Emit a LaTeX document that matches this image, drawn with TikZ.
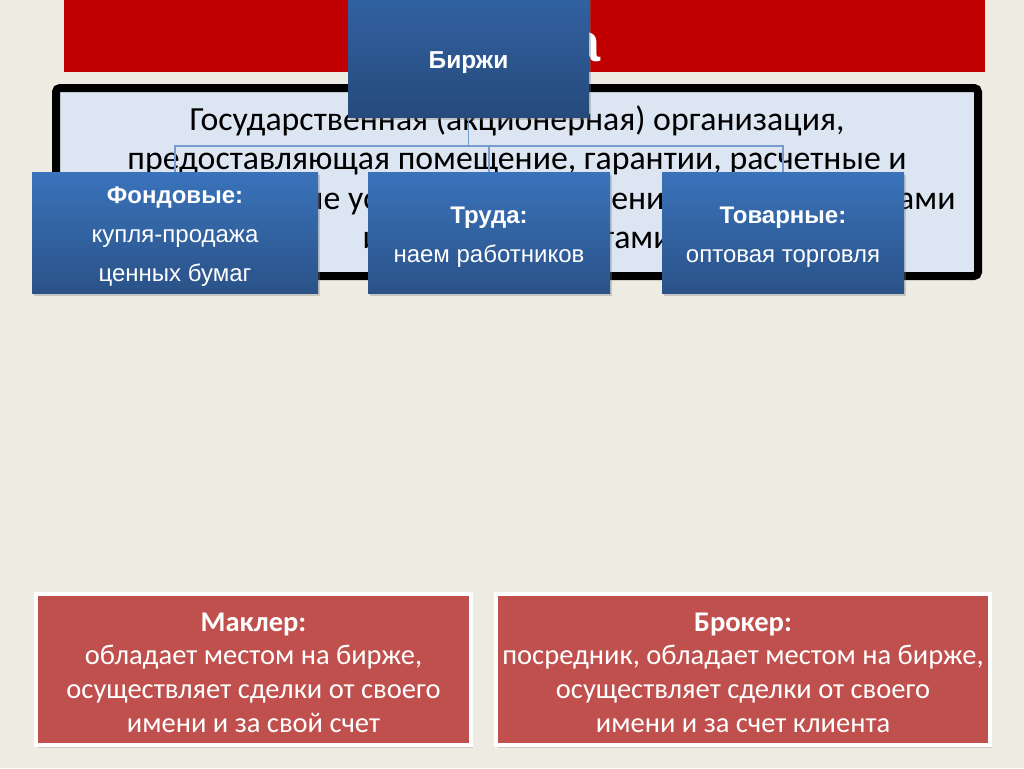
\documentclass[tikz,border=0pt]{standalone}
\usepackage{fontspec}
\setmainfont{Carlito}
\newfontfamily\arialf{Liberation Sans}
\usetikzlibrary{shadows}
\pgfdeclarelayer{bglayer}
\pgfdeclarelayer{midlayer}
\pgfsetlayers{bglayer,midlayer,main}
\definecolor{bgc}{RGB}{238,235,226}
\definecolor{bannerred}{RGB}{192,0,0}
\definecolor{descfill}{RGB}{220,230,242}
\definecolor{btop}{RGB}{58,115,187}
\definecolor{bbot}{RGB}{42,82,136}
\definecolor{bxtop}{RGB}{50,98,162}
\definecolor{bxbot}{RGB}{38,74,124}
\definecolor{redbox}{RGB}{192,80,77}
\definecolor{connc}{RGB}{122,155,207}
\tikzset{
  bluebox/.style={rectangle, top color=btop, bottom color=bbot, draw=none,
    inner sep=0pt,
    drop shadow={opacity=0.35, shadow xshift=2pt, shadow yshift=-3pt}},
  bluetext/.style={text=white, align=center, inner sep=0pt,
    font=\arialf\fontsize{24}{39}\selectfont},
  redtextbox/.style={rectangle, fill=redbox, draw=white, line width=3.5pt,
    inner sep=0pt,
    drop shadow={opacity=0.3, shadow xshift=2pt, shadow yshift=-3pt}},
  redtext/.style={text=white, align=center, inner sep=0pt,
    font=\fontsize{28.5}{33.7}\selectfont},
  conn/.style={draw=connc, line width=1.6pt}
}
\begin{document}
\begin{tikzpicture}[x=1pt,y=-1pt]
\begin{pgfonlayer}{bglayer}
\fill[bgc] (0,0) rectangle (1024,768);
% banner
\fill[bannerred] (64,0) rectangle (985,72);
\node[anchor=base east, inner sep=0pt, text=white, font=\arialf\bfseries\fontsize{54}{60}\selectfont] (title) at (601,61) {Биржа};
% description box
\draw[line width=8pt, rounded corners=4pt, fill=descfill] (56,88) rectangle (978,276);
\node[align=center, inner sep=0pt, font=\fontsize{33.8}{39.3}\selectfont] (desc) at (517,180)
  {Государственная (акционерная) организация,\\
   предоставляющая помещение, гарантии, расчетные и\\
   информационные услуги для заключения сделок с товарами\\
   и ценными бумагами};
\end{pgfonlayer}
\useasboundingbox (0,0) rectangle (1024,768);
% top node
\node[bluebox, minimum width=241pt, minimum height=121pt,
      top color=bxtop, bottom color=bxbot] (birzhi) at (468.5,56.5) {};
\node[bluetext, font=\arialf\bfseries\fontsize{24.5}{28}\selectfont]
      (birzhit) at ([yshift=-6pt]birzhi.center) {Биржи};
% child nodes
\node[bluebox, minimum width=286pt, minimum height=121pt] (fond) at (175,232.5) {};
\node[bluetext] (fondt) at ([yshift=-4.5pt]fond.center)
  {\textbf{Фондовые:}\\купля-продажа\\ценных бумаг};
\node[bluebox, minimum width=242pt, minimum height=121pt] (trud) at (489,232.5) {};
\node[bluetext] (trudt) at ([yshift=-4.5pt]trud.center)
  {\textbf{Труда:}\\наем работников};
\node[bluebox, minimum width=242pt, minimum height=121pt] (tov) at (783,232.5) {};
\node[bluetext] (tovt) at ([yshift=-4.5pt]tov.center)
  {\textbf{Товарные:}\\оптовая торговля};
\begin{pgfonlayer}{midlayer}
\coordinate (junc) at (birzhi.south |- 0,146);
\draw[conn] (birzhi.south) -- (junc);
\draw[conn] (junc) -| (fond.north);
\draw[conn] (junc) -| (trud.north);
\draw[conn] (junc) -| (tov.north);
\end{pgfonlayer}
% bottom red boxes
\node[redtextbox, minimum width=435pt, minimum height=151pt] (makler) at (253.5,669.5) {};
\node[redtext] (maklert) at ([yshift=-3pt]makler.center)
  {\textbf{Маклер:}\\обладает местом на бирже,\\осуществляет сделки от своего\\имени и за свой счет};
\node[redtextbox, minimum width=494pt, minimum height=151pt] (broker) at (743,669.5) {};
\node[redtext] (brokert) at ([yshift=-3pt]broker.center)
  {\textbf{Брокер:}\\посредник, обладает местом на бирже,\\осуществляет сделки от своего\\имени и за счет клиента};
\end{tikzpicture}
\end{document}
